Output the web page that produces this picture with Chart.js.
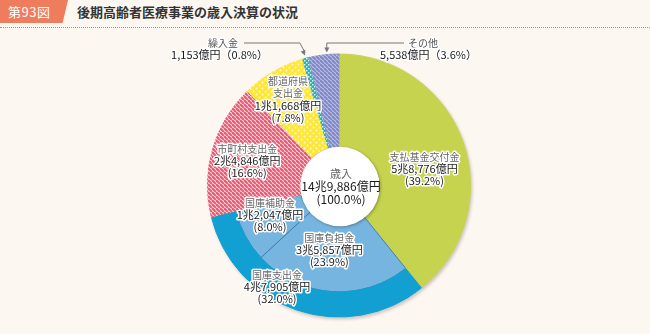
<!DOCTYPE html>
<html lang="ja">
<head>
<meta charset="UTF-8">
<title>第93図 後期高齢者医療事業の歳入決算の状況</title>
<script src="https://cdn.jsdelivr.net/npm/chart.js"></script>
<style>
  html, body { margin: 0; padding: 0; }
  body {
    width: 650px; height: 334px; overflow: hidden; position: relative;
    background: #fdf7f1;
    font-family: "Noto Sans CJK JP", "Noto Sans", sans-serif;
  }
  .fig-no {
    position: absolute; left: 0; top: 0; width: 68px; height: 23px;
    background: #ef7c5c; color: #fff; font-size: 13px; line-height: 23px;
    padding-left: 8px; box-sizing: border-box; letter-spacing: 0.5px;
    clip-path: polygon(0 0, 100% 0, 92% 100%, 0 100%);
  }
  .fig-title {
    position: absolute; left: 77px; top: 3px; font-size: 13px; font-weight: bold;
    color: #333; line-height: 18px;
  }
  .rule {
    position: absolute; left: 0; right: 0; top: 27px; height: 0;
    border-top: 1.5px dotted #e8776a;
  }
  #wrap { position: absolute; left: 0; top: 0; width: 650px; height: 334px; }
</style>
</head>
<body>

<div class="fig-no">第93図</div>
<div class="fig-title">後期高齢者医療事業の歳入決算の状況</div>
<div class="rule"></div>

<div id="wrap"><canvas id="pie"></canvas></div>

<script>
// outer ring: 歳入 by source (億円 / %)
const categories = ['支払基金交付金', '国庫支出金', '市町村支出金', '都道府県支出金', '繰入金', 'その他'];
const amounts = [58776, 47905, 24846, 11668, 1153, 5538];
const shares = [39.2, 32.0, 16.6, 7.8, 0.8, 3.6];

// inner ring: 国庫支出金 split into 負担金 / 補助金
const innerCategories = ['支払基金交付金', '国庫負担金', '国庫補助金', '市町村支出金', '都道府県支出金', '繰入金', 'その他'];
const innerAmounts = [58776, 35857, 12047, 24846, 11668, 1153, 5538];
const innerShares = [39.2, 23.9, 8.0, 16.6, 7.8, 0.8, 3.6];

const totalAmount = 149886;
const totalShare = 100.0;

function yen(v) {
  const cho = Math.floor(v / 10000);
  const oku = (v % 10000).toLocaleString('en-US');
  return (cho ? cho + '兆' + oku : oku) + '億円';
}
function pct(v) { return '(' + v.toFixed(1) + '%)'; }

// fill patterns
function pattern(size, draw) {
  const c = document.createElement('canvas');
  c.width = size; c.height = size;
  const g = c.getContext('2d');
  draw(g, size);
  return g.createPattern(c, 'repeat');
}
function stripes(bg, fg, w) {
  return pattern(4, (g, s) => {
    g.fillStyle = bg; g.fillRect(0, 0, s, s);
    g.strokeStyle = fg; g.lineWidth = w;
    for (let k = -s; k <= s * 2; k += s) {
      g.beginPath(); g.moveTo(k, 0); g.lineTo(k + s, s); g.stroke();
    }
  });
}
const pink = stripes('#fde4e8', '#ea5a72', 2.2);
const purple = stripes('#c2c5ea', '#8289c8', 2.2);
const yellow = pattern(6, (g, s) => {
  g.fillStyle = '#ffe63a'; g.fillRect(0, 0, s, s);
  g.fillStyle = '#fffbe0';
  g.beginPath(); g.arc(1.5, 1.5, 0.9, 0, Math.PI * 2); g.fill();
  g.beginPath(); g.arc(4.5, 4.5, 0.9, 0, Math.PI * 2); g.fill();
});
const teal = pattern(4, (g, s) => {
  g.fillStyle = '#26b2b6'; g.fillRect(0, 0, s, s);
  g.fillStyle = '#d8f3f2';
  g.fillRect(0, 0, 1.5, 1.5); g.fillRect(2, 2, 1.5, 1.5);
});

const green = '#c6d34e';
const darkBlue = '#129fd2';
const lightBlue = '#76b5e0';

const outerColors = [green, darkBlue, pink, yellow, teal, purple];
const innerColors = [green, lightBlue, lightBlue, pink, yellow, teal, purple];
const innerBorders = [green, '#3f7fb4', '#3f7fb4', pink, yellow, teal, purple];

// label anchors: dataset, index, fraction along arc, radius (px)
const labelSpots = [
  { ds: 1, i: 0, t: 0.56, r: 87, name: ['支払基金交付金'], amt: amounts[0], sh: shares[0] },
  { ds: 1, i: 1, t: 0.55, r: 65, name: ['国庫負担金'], amt: innerAmounts[1], sh: innerShares[1] },
  { ds: 1, i: 2, t: 0.68, r: 75, name: ['国庫補助金'], amt: innerAmounts[2], sh: innerShares[2] },
  { ds: 0, i: 1, t: 0.61, r: 119, name: ['国庫支出金'], amt: amounts[1], sh: shares[1] },
  { ds: 1, i: 3, t: 0.48, r: 95, name: ['市町村支出金'], amt: amounts[2], sh: shares[2] },
  { ds: 1, i: 4, t: 0.48, r: 100, name: ['都道府県', '支出金'], amt: amounts[3], sh: shares[3] }
];

const nameFont = '10px "Noto Sans CJK JP"';
const valueFont = '11px "Noto Sans CJK JP"';

function outlined(ctx, text, x, y, color) {
  ctx.lineWidth = 3; ctx.strokeStyle = '#fff'; ctx.lineJoin = 'round';
  ctx.strokeText(text, x, y);
  ctx.fillStyle = color;
  ctx.fillText(text, x, y);
}

function arrow(ctx, x, y, ang) {
  ctx.save();
  ctx.translate(x, y); ctx.rotate(ang);
  ctx.beginPath(); ctx.moveTo(0, 0); ctx.lineTo(-5, -2.5); ctx.lineTo(-5, 2.5); ctx.closePath();
  ctx.fill();
  ctx.restore();
}

const shadowPlugin = {
  id: 'pieShadow',
  beforeDatasetsDraw(chart) {
    const arc = chart.getDatasetMeta(0).data[0];
    const ctx = chart.ctx;
    ctx.save();
    ctx.beginPath();
    ctx.arc(arc.x + 1.5, arc.y + 2, arc.outerRadius + 0.5, 0, Math.PI * 2);
    ctx.fillStyle = 'rgba(120,110,100,0.35)';
    ctx.filter = 'blur(1.5px)';
    ctx.fill();
    ctx.restore();
  }
};

const labelPlugin = {
  id: 'labels',
  afterDatasetsDraw(chart) {
    const ctx = chart.ctx;
    const inner = chart.getDatasetMeta(1).data[0];

    // white centre disc with a soft shadow
    ctx.save();
    ctx.shadowColor = 'rgba(0,0,0,0.3)';
    ctx.shadowBlur = 3; ctx.shadowOffsetX = 1; ctx.shadowOffsetY = 1;
    ctx.beginPath();
    ctx.arc(inner.x + 1, inner.y + 1, inner.innerRadius + 0.5, 0, Math.PI * 2);
    ctx.fillStyle = '#fff';
    ctx.fill();
    ctx.restore();

    ctx.save();
    ctx.textAlign = 'center';
    ctx.textBaseline = 'middle';
    const lh = 12;

    labelSpots.forEach(s => {
      const arc = chart.getDatasetMeta(s.ds).data[s.i];
      const a = arc.startAngle + s.t * (arc.endAngle - arc.startAngle);
      const x = arc.x + s.r * Math.cos(a);
      const y = arc.y + s.r * Math.sin(a);
      const lines = s.name.length + 2;
      let y0 = y - (lines - 1) * lh / 2;
      ctx.font = nameFont;
      s.name.forEach((n, k) => outlined(ctx, n, x, y0 + k * lh, '#666'));
      y0 += s.name.length * lh;
      ctx.font = valueFont;
      outlined(ctx, yen(s.amt), x, y0, '#1a1a1a');
      outlined(ctx, pct(s.sh), x, y0 + lh, '#1a1a1a');
    });

    // centre total
    ctx.font = '11px "Noto Sans CJK JP"';
    ctx.fillStyle = '#666';
    ctx.fillText('歳入', inner.x + 2, inner.y - 12);
    ctx.font = '12px "Noto Sans CJK JP"';
    ctx.fillStyle = '#1a1a1a';
    ctx.fillText(yen(totalAmount), inner.x + 2, inner.y + 1);
    ctx.fillText(pct(totalShare), inner.x + 2, inner.y + 14);

    // outside labels with leader lines: 繰入金 and その他
    ctx.strokeStyle = '#777'; ctx.fillStyle = '#777'; ctx.lineWidth = 1;
    const ly = 43;
    const kuri = chart.getDatasetMeta(0).data[4];
    const ka = (kuri.startAngle + kuri.endAngle) / 2;
    const kx = kuri.x + (kuri.outerRadius + 3) * Math.cos(ka);
    const ky = kuri.y + (kuri.outerRadius + 3) * Math.sin(ka);
    ctx.beginPath(); ctx.moveTo(244, ly); ctx.lineTo(kx - 5, ly); ctx.lineTo(kx, ky - 3); ctx.stroke();
    arrow(ctx, kx, ky, Math.atan2(ky - ly, 5));

    const other = chart.getDatasetMeta(0).data[5];
    const oa = other.startAngle + 0.6 * (other.endAngle - other.startAngle);
    const ox = other.x + other.outerRadius * Math.cos(oa);
    const oy = other.y + (other.outerRadius + 2) * Math.sin(oa);
    ctx.beginPath(); ctx.moveTo(404, ly); ctx.lineTo(ox, ly); ctx.lineTo(ox, oy - 3); ctx.stroke();
    arrow(ctx, ox, oy, Math.PI / 2);

    ctx.textAlign = 'right';
    ctx.font = nameFont;
    outlined(ctx, categories[4], 238, ly, '#555');
    ctx.font = valueFont;
    outlined(ctx, yen(amounts[4]) + '（' + shares[4].toFixed(1) + '%）', 268, ly + 12, '#1a1a1a');
    ctx.textAlign = 'left';
    ctx.font = nameFont;
    outlined(ctx, categories[5], 408, ly, '#555');
    ctx.font = valueFont;
    outlined(ctx, yen(amounts[5]) + '（' + shares[5].toFixed(1) + '%）', 380, ly + 12, '#1a1a1a');
    ctx.restore();
  }
};

new Chart(document.getElementById('pie'), {
  type: 'doughnut',
  data: {
    labels: innerCategories,
    datasets: [
      {
        data: amounts,
        backgroundColor: outerColors,
        borderColor: outerColors,
        borderWidth: 1,
        weight: 25
      },
      {
        data: innerAmounts,
        backgroundColor: innerColors,
        borderColor: innerBorders,
        borderWidth: 1,
        weight: 67
      }
    ]
  },
  options: {
    responsive: true,
    maintainAspectRatio: false,
    animation: false,
    cutout: '29.8%',
    layout: { padding: { left: 207, right: 179, top: 53, bottom: 16 } },
    plugins: { legend: { display: false }, tooltip: { enabled: false } },
    events: []
  },
  plugins: [shadowPlugin, labelPlugin]
});
</script>
</body>
</html>
